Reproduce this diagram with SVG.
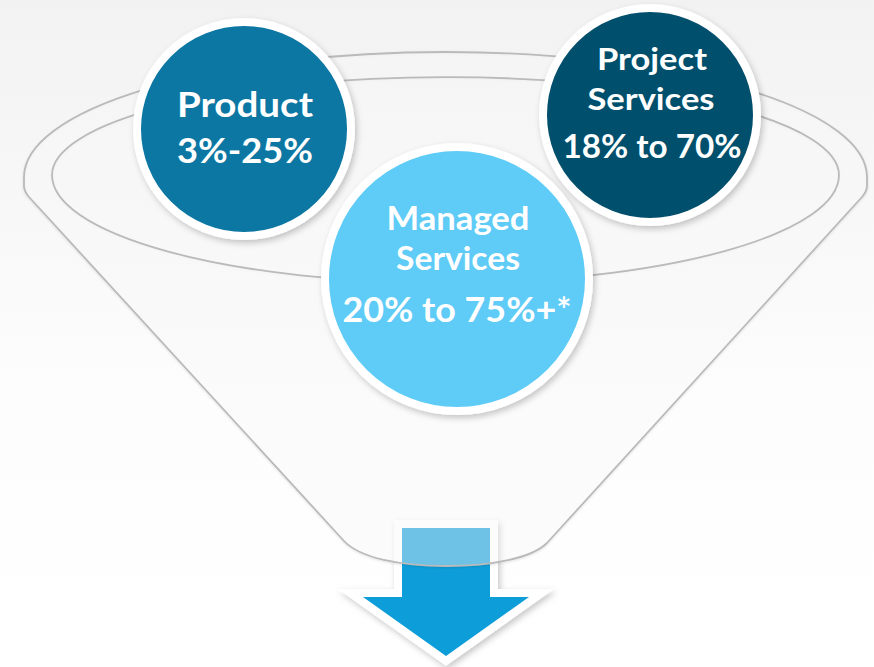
<svg xmlns="http://www.w3.org/2000/svg" width="874" height="667" viewBox="0 0 874 667">
  <defs>
    <linearGradient id="bg" x1="0" y1="0" x2="0" y2="1">
      <stop offset="0" stop-color="#f2f2f2"/>
      <stop offset="0.6" stop-color="#fdfdfd"/>
      <stop offset="1" stop-color="#ffffff"/>
    </linearGradient>
    <filter id="shadow" x="-20%" y="-20%" width="140%" height="140%">
      <feDropShadow dx="2" dy="3" stdDeviation="3" flood-color="#000" flood-opacity="0.22"/>
    </filter>
    <filter id="lineShadow" x="-5%" y="-5%" width="110%" height="110%">
      <feDropShadow dx="0" dy="1" stdDeviation="0.8" flood-color="#000" flood-opacity="0.12"/>
    </filter>
  </defs>
  <style>
    .ring { stroke: #ffffff; stroke-width: 8; }
    .funnel { fill: none; stroke: #bababa; stroke-width: 1.8; }
    .lbl { font-family: Lato, "Open Sans", "Liberation Sans", sans-serif; font-weight: 700; fill: #ffffff; text-anchor: middle; }
  </style>

  <rect x="0" y="0" width="874" height="667" fill="url(#bg)"/>

  <g id="arrow" filter="url(#shadow)">
    <path d="M402,528 H490 V597 H529 L446,656 L363,597 H402 Z" fill="#0b9ed9" stroke="#ffffff" stroke-width="16" stroke-linejoin="miter" stroke-miterlimit="10" paint-order="stroke"/>
  </g>

  <g id="funnel" filter="url(#lineShadow)">
    <path d="M24,177 A421.5,125 0 0 1 867,177 L867,186 Q867,191 862,197 L547,543 C532,558 492,566 446,566 C400,566 360,558 344,541 L29,197 Q24,191 24,186 Z" fill="#ffffff" fill-opacity="0.38" stroke="#bababa" stroke-width="1.8"/>
    <path class="funnel" d="M52,175 A393.5,98 0 0 1 839,175 A393.5,108 0 0 1 52,175 Z"/>
  </g>

  <g id="product">
    <circle cx="244" cy="129" r="107" fill="#0b77a3" class="ring" filter="url(#shadow)"/>
    <text class="lbl" x="245" y="117" font-size="35" textLength="136" lengthAdjust="spacingAndGlyphs">Product</text>
    <text class="lbl" x="245" y="163" font-size="35" textLength="136" lengthAdjust="spacingAndGlyphs">3%-25%</text>
  </g>

  <g id="project-services">
    <circle cx="650" cy="115" r="107" fill="#064f6d" class="ring" filter="url(#shadow)"/>
    <text class="lbl" x="652" y="70" font-size="31" textLength="110" lengthAdjust="spacingAndGlyphs">Project</text>
    <text class="lbl" x="651" y="110" font-size="31" textLength="127" lengthAdjust="spacingAndGlyphs">Services</text>
    <text class="lbl" x="652" y="158" font-size="32" textLength="179" lengthAdjust="spacingAndGlyphs">18% to 70%</text>
  </g>

  <g id="managed-services">
    <circle cx="457" cy="279" r="132" fill="#5ecbf7" class="ring" filter="url(#shadow)"/>
    <text class="lbl" x="458" y="230" font-size="32" textLength="143" lengthAdjust="spacingAndGlyphs">Managed</text>
    <text class="lbl" x="458" y="270" font-size="32" textLength="124" lengthAdjust="spacingAndGlyphs">Services</text>
    <text class="lbl" x="457" y="322" font-size="35" textLength="229" lengthAdjust="spacingAndGlyphs">20% to 75%+*</text>
  </g>
</svg>
